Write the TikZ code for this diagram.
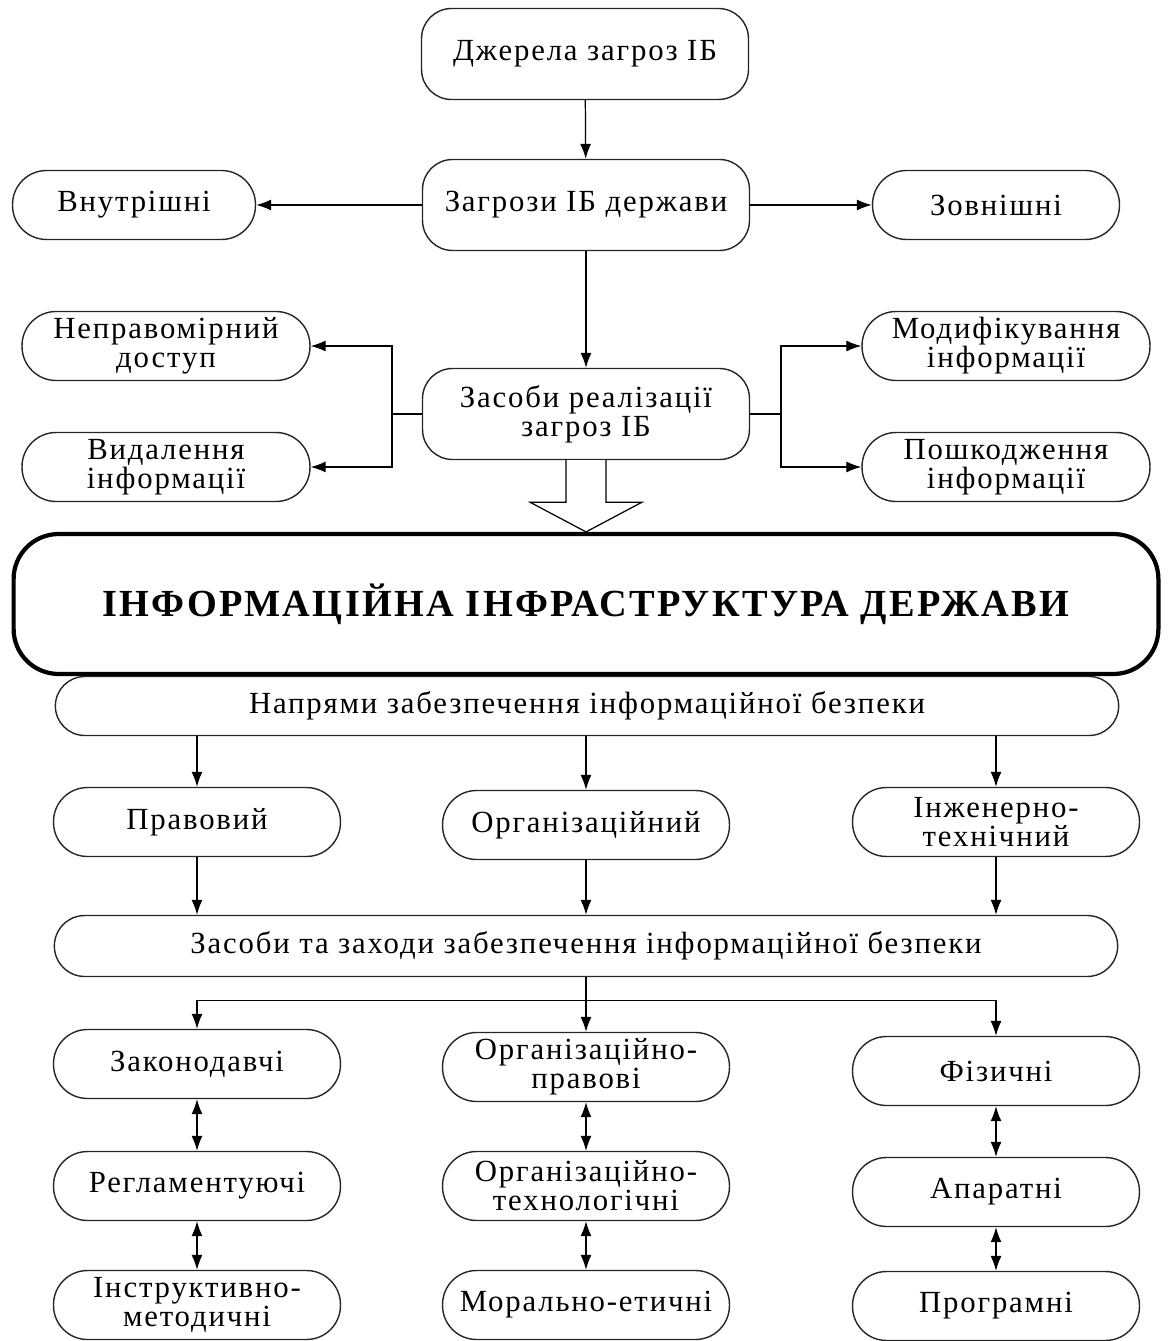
\documentclass[tikz,border=0pt]{standalone}
\usepackage{fontspec}
\setmainfont{Liberation Serif}[LetterSpace=6]
\usepackage{tikz}
\usetikzlibrary{arrows.meta,calc}

\begin{document}
\begin{tikzpicture}[x=0.02cm,y=-0.02cm,>=Latex,
  box/.style={draw=black!85,line width=0.8pt,rounded corners=0.6cm,align=center,font=\fontsize{17.5}{16.5}\selectfont,inner sep=2pt,minimum width=6.54cm,minimum height=1.82cm},
  pill/.style={draw=black!85,line width=0.8pt,rounded corners=0.68cm,align=center,font=\fontsize{17.5}{16.5}\selectfont,inner sep=2pt,minimum width=5.74cm,minimum height=1.38cm},
  wide/.style={pill,minimum width=21.27cm,minimum height=1.18cm,rounded corners=0.59cm},
  arr/.style={-{Latex[length=3mm,width=2.2mm]},line width=0.7pt},
  both/.style={{Latex[length=3mm,width=2.2mm]}-{Latex[length=3mm,width=2.2mm]},line width=0.7pt}]
\useasboundingbox (0,0) rectangle (1170,1341);
\node[box] (dz) at (585,54) {Джерела загроз ІБ};
\node[box] (zd) at (586,205) {Загрози ІБ держави};
\node[pill,minimum width=4.86cm] (vn) at (134,205) {Внутрішні};
\node[pill,minimum width=4.94cm] (zv) at (996,205) {Зовнішні};
\node[box] (zr) at (586,414) {Засоби реалізації\\загроз ІБ};
\node[pill,minimum width=5.76cm] (nd) at (166,346) {Неправомірний\\доступ};
\node[pill,minimum width=5.76cm] (vd) at (166,467) {Видалення\\інформації};
\node[pill,minimum width=5.76cm] (md) at (1006,346) {Модифікування\\інформації};
\node[pill,minimum width=5.76cm] (pk) at (1006,467) {Пошкодження\\інформації};
\node[draw,line width=2.4pt,rounded corners=0.9cm,minimum width=22.9cm,minimum height=2.8cm,font=\bfseries\fontsize{21.8}{24}\selectfont] (ii) at (586,604) {ІНФОРМАЦІЙНА ІНФРАСТРУКТУРА ДЕРЖАВИ};
\node[wide] (np) at (587,706) {Напрями забезпечення інформаційної безпеки};
\node[pill] (pr) at (197,822) {Правовий};
\node[pill] (og) at (586,825) {Організаційний};
\node[pill] (it) at (996,822) {Інженерно-\\технічний};
\node[wide,minimum height=1.22cm,rounded corners=0.61cm] (zz) at (586,946) {Засоби та заходи забезпечення інформаційної безпеки};
\node[pill] (zk) at (197,1064) {Законодавчі};
\node[pill] (rg) at (197,1186) {Регламентуючі};
\node[pill] (im) at (197,1305) {Інструктивно-\\методичні};
\node[pill] (op) at (586,1067) {Організаційно-\\правові};
\node[pill] (ot) at (586,1186) {Організаційно-\\технологічні};
\node[pill] (me) at (586,1305) {Морально-етичні};
\node[pill] (fz) at (996,1071) {Фізичні};
\node[pill] (ap) at (996,1192) {Апаратні};
\node[pill] (pg) at (996,1306) {Програмні};
\draw[arr] (dz) -- (zd);
\draw[arr] (zd) -- (vn);
\draw[arr] (zd) -- (zv);
\draw[arr] (zd) -- (zr);
\draw[line width=0.7pt] (zr.west) -- (392,414) coordinate (lc);
\draw[arr] (lc) |- (nd);
\draw[arr] (lc) |- (vd);
\draw[line width=0.7pt] (zr.east) -- (781,414) coordinate (rc);
\draw[arr] (rc) |- (md);
\draw[arr] (rc) |- (pk);
\draw[line width=0.7pt,fill=white] ($(zr.south)+(-20,0)$) -- ++(0,42) -- ++(-36,0) -- (ii.north) -- ($(zr.south)+(56,42)$) -- ++(-36,0) -- (zr.south -| {$(zr.south)+(20,0)$});
\draw[arr] (np.south -| pr) -- (pr);
\draw[arr] (np.south -| og) -- (og);
\draw[arr] (np.south -| it) -- (it);
\draw[arr] (pr) -- (pr |- zz.north);
\draw[arr] (og) -- (og |- zz.north);
\draw[arr] (it) -- (it |- zz.north);
\draw[line width=0.7pt] (zz.south -| og) -- ++(0,23) coordinate (bc);
\draw[arr] (bc) -| (zk);
\draw[arr] (bc) -- (op);
\draw[arr] (bc) -| (fz);
\draw[both] (zk) -- (rg);
\draw[both] (rg) -- (im);
\draw[both] (op) -- (ot);
\draw[both] (ot) -- (me);
\draw[both] (fz) -- (ap);
\draw[both] (ap) -- (pg);
\end{tikzpicture}
\end{document}
